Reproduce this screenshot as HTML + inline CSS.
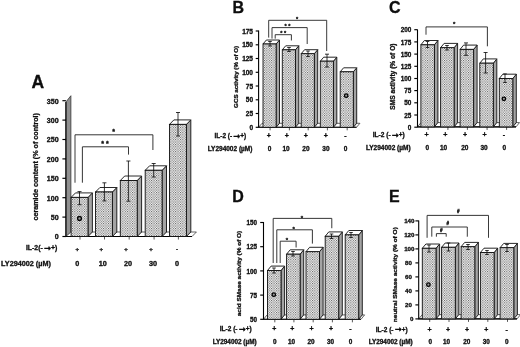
<!DOCTYPE html>
<html><head><meta charset="utf-8"><title>Figure</title>
<style>html,body{margin:0;padding:0;background:#fff;overflow:hidden}svg{display:block}text{font-family:'Liberation Sans', sans-serif;fill:#0a0a0a;stroke:#0a0a0a;stroke-width:0.28px}</style>
</head><body>
<svg width="520" height="347" viewBox="0 0 520 347">
<defs><pattern id="dots" width="2.4" height="2.4" patternUnits="userSpaceOnUse"><rect width="2.4" height="2.4" fill="#ffffff"/><rect x="0" y="0" width="1" height="1" fill="#4c4c4c"/><rect x="1.2" y="1.2" width="1" height="1" fill="#4c4c4c"/></pattern>
<filter id="soft" x="-2%" y="-2%" width="104%" height="104%"><feGaussianBlur stdDeviation="0.35"/></filter></defs>
<rect width="520" height="347" fill="#fff"/>
<g filter="url(#soft)">
<g>
<polygon points="70.6,236.5 75.0,232.0 196.4,232.0 192.0,236.5" fill="#fff" stroke="#222" stroke-width="0.7"/>
<polygon points="65.9,236.5 65.9,102.0 70.9,95.7 70.9,232.0" fill="#909090" stroke="#222" stroke-width="0.7"/>
<path d="M65.9,102.0V236.5H192.0" stroke="#000" stroke-width="1.1" fill="none"/>
<path d="M62.4,236.5H65.9" stroke="#000" stroke-width="1.15"/>
<text x="58.6" y="239.4" font-size="7.1" text-anchor="end" font-weight="bold" >0</text>
<path d="M62.4,217.1H65.9" stroke="#000" stroke-width="1.15"/>
<text x="58.6" y="220.0" font-size="7.1" text-anchor="end" font-weight="bold" >50</text>
<path d="M62.4,197.7H65.9" stroke="#000" stroke-width="1.15"/>
<text x="58.6" y="200.6" font-size="7.1" text-anchor="end" font-weight="bold" >100</text>
<path d="M62.4,178.3H65.9" stroke="#000" stroke-width="1.15"/>
<text x="58.6" y="181.2" font-size="7.1" text-anchor="end" font-weight="bold" >150</text>
<path d="M62.4,158.9H65.9" stroke="#000" stroke-width="1.15"/>
<text x="58.6" y="161.8" font-size="7.1" text-anchor="end" font-weight="bold" >200</text>
<path d="M62.4,139.5H65.9" stroke="#000" stroke-width="1.15"/>
<text x="58.6" y="142.4" font-size="7.1" text-anchor="end" font-weight="bold" >250</text>
<path d="M62.4,120.1H65.9" stroke="#000" stroke-width="1.15"/>
<text x="58.6" y="123.0" font-size="7.1" text-anchor="end" font-weight="bold" >300</text>
<path d="M62.4,100.7H65.9" stroke="#000" stroke-width="1.15"/>
<text x="58.6" y="103.6" font-size="7.1" text-anchor="end" font-weight="bold" >350</text>
<polygon points="88.0,197.4 92.4,192.9 92.4,232.0 88.0,236.5" fill="#a4a4a4" stroke="#111" stroke-width="0.9"/>
<polygon points="71.1,197.4 75.5,192.9 92.4,192.9 88.0,197.4" fill="#fff" stroke="#111" stroke-width="0.9"/>
<rect x="71.1" y="197.4" width="16.9" height="39.1" fill="url(#dots)" stroke="#111" stroke-width="0.9"/>
<path d="M80.0,236.5v3" stroke="#111" stroke-width="0.7"/>
<polygon points="112.4,192.0 116.8,187.5 116.8,232.0 112.4,236.5" fill="#a4a4a4" stroke="#111" stroke-width="0.9"/>
<polygon points="95.5,192.0 99.9,187.5 116.8,187.5 112.4,192.0" fill="#fff" stroke="#111" stroke-width="0.9"/>
<rect x="95.5" y="192.0" width="16.9" height="44.5" fill="url(#dots)" stroke="#111" stroke-width="0.9"/>
<path d="M104.5,236.5v3" stroke="#111" stroke-width="0.7"/>
<polygon points="137.2,180.5 141.6,176.0 141.6,232.0 137.2,236.5" fill="#a4a4a4" stroke="#111" stroke-width="0.9"/>
<polygon points="120.3,180.5 124.7,176.0 141.6,176.0 137.2,180.5" fill="#fff" stroke="#111" stroke-width="0.9"/>
<rect x="120.3" y="180.5" width="16.9" height="56.0" fill="url(#dots)" stroke="#111" stroke-width="0.9"/>
<path d="M129.2,236.5v3" stroke="#111" stroke-width="0.7"/>
<polygon points="162.1,170.3 166.5,165.8 166.5,232.0 162.1,236.5" fill="#a4a4a4" stroke="#111" stroke-width="0.9"/>
<polygon points="145.2,170.3 149.6,165.8 166.5,165.8 162.1,170.3" fill="#fff" stroke="#111" stroke-width="0.9"/>
<rect x="145.2" y="170.3" width="16.9" height="66.2" fill="url(#dots)" stroke="#111" stroke-width="0.9"/>
<path d="M154.1,236.5v3" stroke="#111" stroke-width="0.7"/>
<polygon points="186.4,124.4 190.8,119.9 190.8,232.0 186.4,236.5" fill="#a4a4a4" stroke="#111" stroke-width="0.9"/>
<polygon points="169.5,124.4 173.9,119.9 190.8,119.9 186.4,124.4" fill="#fff" stroke="#111" stroke-width="0.9"/>
<rect x="169.5" y="124.4" width="16.9" height="112.1" fill="url(#dots)" stroke="#111" stroke-width="0.9"/>
<path d="M178.4,236.5v3" stroke="#111" stroke-width="0.7"/>
<path d="M79.5,191.6V204.7M77.5,191.6H81.5M77.5,204.7H81.5" stroke="#111" stroke-width="0.85" fill="none"/>
<path d="M104.4,182.8V200.9M102.4,182.8H106.4M102.4,200.9H106.4" stroke="#111" stroke-width="0.85" fill="none"/>
<path d="M128.4,161.0V201.2M126.4,161.0H130.4M126.4,201.2H130.4" stroke="#111" stroke-width="0.85" fill="none"/>
<path d="M153.7,163.5V177.0M151.7,163.5H155.7M151.7,177.0H155.7" stroke="#111" stroke-width="0.85" fill="none"/>
<path d="M178.0,112.5V136.0M176.0,112.5H180.0M176.0,136.0H180.0" stroke="#111" stroke-width="0.85" fill="none"/>
<path d="M75.0,182.7V134.8H152.9V150.0" stroke="#222" stroke-width="0.9" fill="none"/>
<path d="M82.4,182.7V146.8H128.5V154.6" stroke="#222" stroke-width="0.9" fill="none"/>
<text x="113.7" y="133.5" font-size="7" text-anchor="middle" font-weight="bold" >*</text>
<text x="105.0" y="145.5" font-size="7" text-anchor="middle" font-weight="bold" >* *</text>
<circle cx="79.5" cy="218.4" r="1.9" fill="#999" stroke="#000" stroke-width="1.3"/>
<text x="31.5" y="87.7" font-size="17.5" text-anchor="start" font-weight="bold" >A</text>
<text transform="translate(38.3,166.8) rotate(-90)" font-size="7.25" text-anchor="middle" font-weight="bold" textLength="107.5" lengthAdjust="spacingAndGlyphs">ceramide content (% of control)</text>
<text x="57.3" y="250.4" font-size="6.9" text-anchor="end" font-weight="bold" >IL-2(- <tspan font-family="DejaVu Sans, sans-serif" font-weight="bold" font-size="8.4" dx="-0.9" dy="0.5">&#8594;</tspan><tspan dy="-0.5" dx="0.2">+)</tspan></text>
<text x="50.9" y="266.0" font-size="7.25" text-anchor="end" font-weight="bold" >LY294002 (&#181;M)</text>
<text x="77.3" y="250.5" font-size="6.0" text-anchor="middle" font-weight="bold" >+</text>
<text x="101.2" y="250.5" font-size="6.0" text-anchor="middle" font-weight="bold" >+</text>
<text x="126.0" y="250.5" font-size="6.0" text-anchor="middle" font-weight="bold" >+</text>
<text x="151.0" y="250.5" font-size="6.0" text-anchor="middle" font-weight="bold" >+</text>
<text x="177.0" y="250.5" font-size="6.0" text-anchor="middle" font-weight="bold" >-</text>
<text x="77.3" y="266.0" font-size="7.25" text-anchor="middle" font-weight="bold" >0</text>
<text x="102.8" y="266.0" font-size="7.25" text-anchor="middle" font-weight="bold" >10</text>
<text x="128.0" y="266.0" font-size="7.25" text-anchor="middle" font-weight="bold" >20</text>
<text x="153.0" y="266.0" font-size="7.25" text-anchor="middle" font-weight="bold" >30</text>
<text x="177.0" y="266.0" font-size="7.25" text-anchor="middle" font-weight="bold" >0</text>
</g>
<g>
<polygon points="258.6,127.3 262.0,123.3 359.9,123.3 356.5,127.3" fill="#fff" stroke="#222" stroke-width="0.7"/>
<path d="M258.6,30.5V127.3H356.5" stroke="#000" stroke-width="1.1" fill="none"/>
<path d="M255.7,127.3H258.6" stroke="#000" stroke-width="1.15"/>
<text x="253.0" y="129.9" font-size="6.5" text-anchor="end" font-weight="bold" >0</text>
<path d="M255.7,113.5H258.6" stroke="#000" stroke-width="1.15"/>
<text x="253.0" y="116.2" font-size="6.5" text-anchor="end" font-weight="bold" >25</text>
<path d="M255.7,99.8H258.6" stroke="#000" stroke-width="1.15"/>
<text x="253.0" y="102.4" font-size="6.5" text-anchor="end" font-weight="bold" >50</text>
<path d="M255.7,86.0H258.6" stroke="#000" stroke-width="1.15"/>
<text x="253.0" y="88.7" font-size="6.5" text-anchor="end" font-weight="bold" >75</text>
<path d="M255.7,72.3H258.6" stroke="#000" stroke-width="1.15"/>
<text x="253.0" y="74.9" font-size="6.5" text-anchor="end" font-weight="bold" >100</text>
<path d="M255.7,58.5H258.6" stroke="#000" stroke-width="1.15"/>
<text x="253.0" y="61.2" font-size="6.5" text-anchor="end" font-weight="bold" >125</text>
<path d="M255.7,44.8H258.6" stroke="#000" stroke-width="1.15"/>
<text x="253.0" y="47.4" font-size="6.5" text-anchor="end" font-weight="bold" >150</text>
<path d="M255.7,31.0H258.6" stroke="#000" stroke-width="1.15"/>
<text x="253.0" y="33.7" font-size="6.5" text-anchor="end" font-weight="bold" >175</text>
<polygon points="276.1,44.0 279.5,40.0 279.5,123.3 276.1,127.3" fill="#a4a4a4" stroke="#111" stroke-width="0.9"/>
<polygon points="263.0,44.0 266.4,40.0 279.5,40.0 276.1,44.0" fill="#fff" stroke="#111" stroke-width="0.9"/>
<rect x="263.0" y="44.0" width="13.1" height="83.3" fill="url(#dots)" stroke="#111" stroke-width="0.9"/>
<path d="M270.1,127.3v3" stroke="#111" stroke-width="0.7"/>
<polygon points="295.4,49.8 298.8,45.8 298.8,123.3 295.4,127.3" fill="#a4a4a4" stroke="#111" stroke-width="0.9"/>
<polygon points="282.3,49.8 285.7,45.8 298.8,45.8 295.4,49.8" fill="#fff" stroke="#111" stroke-width="0.9"/>
<rect x="282.3" y="49.8" width="13.1" height="77.5" fill="url(#dots)" stroke="#111" stroke-width="0.9"/>
<path d="M289.4,127.3v3" stroke="#111" stroke-width="0.7"/>
<polygon points="314.3,53.7 317.7,49.7 317.7,123.3 314.3,127.3" fill="#a4a4a4" stroke="#111" stroke-width="0.9"/>
<polygon points="301.2,53.7 304.6,49.7 317.7,49.7 314.3,53.7" fill="#fff" stroke="#111" stroke-width="0.9"/>
<rect x="301.2" y="53.7" width="13.1" height="73.6" fill="url(#dots)" stroke="#111" stroke-width="0.9"/>
<path d="M308.2,127.3v3" stroke="#111" stroke-width="0.7"/>
<polygon points="333.4,61.2 336.8,57.2 336.8,123.3 333.4,127.3" fill="#a4a4a4" stroke="#111" stroke-width="0.9"/>
<polygon points="320.3,61.2 323.7,57.2 336.8,57.2 333.4,61.2" fill="#fff" stroke="#111" stroke-width="0.9"/>
<rect x="320.3" y="61.2" width="13.1" height="66.1" fill="url(#dots)" stroke="#111" stroke-width="0.9"/>
<path d="M327.4,127.3v3" stroke="#111" stroke-width="0.7"/>
<polygon points="353.3,71.8 356.7,67.8 356.7,123.3 353.3,127.3" fill="#a4a4a4" stroke="#111" stroke-width="0.9"/>
<polygon points="340.2,71.8 343.6,67.8 356.7,67.8 353.3,71.8" fill="#fff" stroke="#111" stroke-width="0.9"/>
<rect x="340.2" y="71.8" width="13.1" height="55.5" fill="url(#dots)" stroke="#111" stroke-width="0.9"/>
<path d="M347.2,127.3v3" stroke="#111" stroke-width="0.7"/>
<path d="M270.0,41.5V46.0M268.2,41.5H271.8M268.2,46.0H271.8" stroke="#111" stroke-width="0.85" fill="none"/>
<path d="M289.0,47.5V51.5M287.2,47.5H290.8M287.2,51.5H290.8" stroke="#111" stroke-width="0.85" fill="none"/>
<path d="M308.0,51.0V56.5M306.2,51.0H309.8M306.2,56.5H309.8" stroke="#111" stroke-width="0.85" fill="none"/>
<path d="M327.0,54.2V67.0M325.0,54.2H329.0M325.0,67.0H329.0" stroke="#111" stroke-width="0.85" fill="none"/>
<path d="M268.7,37.6V20.3H326.7V51.0" stroke="#222" stroke-width="0.9" fill="none"/>
<path d="M272.0,38.6V27.6H307.2V44.0" stroke="#222" stroke-width="0.9" fill="none"/>
<path d="M275.2,38.6V34.7H291.4V40.5" stroke="#222" stroke-width="0.9" fill="none"/>
<text x="297.0" y="21.3" font-size="5.6" text-anchor="middle" font-weight="bold" >*</text>
<text x="287.5" y="28.3" font-size="5.6" text-anchor="middle" font-weight="bold" >* *</text>
<text x="283.3" y="35.0" font-size="5.6" text-anchor="middle" font-weight="bold" >* *</text>
<circle cx="346.2" cy="95.7" r="1.75" fill="#999" stroke="#000" stroke-width="1.3"/>
<text x="232.5" y="13.2" font-size="16" text-anchor="start" font-weight="bold" >B</text>
<text transform="translate(237.7,76.9) rotate(-90)" font-size="6.1" text-anchor="middle" font-weight="bold" textLength="62" lengthAdjust="spacingAndGlyphs">GCS activity (% of O)</text>
<text x="246.3" y="138.1" font-size="6.5" text-anchor="end" font-weight="bold" >IL-2 (- <tspan font-family="DejaVu Sans, sans-serif" font-weight="bold" font-size="8.4" dx="-0.9" dy="0.5">&#8594;</tspan><tspan dy="-0.5" dx="0.2">+)</tspan></text>
<text x="252.4" y="151.4" font-size="6.5" text-anchor="end" font-weight="bold" >LY294002 (&#181;M)</text>
<text x="268.8" y="138.1" font-size="7.0" text-anchor="middle" font-weight="bold" >+</text>
<text x="286.8" y="138.1" font-size="7.0" text-anchor="middle" font-weight="bold" >+</text>
<text x="305.9" y="138.1" font-size="7.0" text-anchor="middle" font-weight="bold" >+</text>
<text x="325.9" y="138.1" font-size="7.0" text-anchor="middle" font-weight="bold" >+</text>
<text x="345.5" y="138.1" font-size="7.0" text-anchor="middle" font-weight="bold" >-</text>
<text x="269.5" y="151.4" font-size="6.5" text-anchor="middle" font-weight="bold" >0</text>
<text x="286.0" y="151.4" font-size="6.5" text-anchor="middle" font-weight="bold" >10</text>
<text x="305.9" y="151.4" font-size="6.5" text-anchor="middle" font-weight="bold" >20</text>
<text x="325.9" y="151.4" font-size="6.5" text-anchor="middle" font-weight="bold" >30</text>
<text x="345.5" y="151.4" font-size="6.5" text-anchor="middle" font-weight="bold" >0</text>
</g>
<g>
<polygon points="417.5,126.9 421.0,122.6 519.5,122.6 516.0,126.9" fill="#fff" stroke="#222" stroke-width="0.7"/>
<path d="M417.5,29.5V126.9H516.0" stroke="#000" stroke-width="1.1" fill="none"/>
<path d="M414.3,127.2H417.5" stroke="#000" stroke-width="1.15"/>
<text x="411.4" y="129.8" font-size="6.4" text-anchor="end" font-weight="bold" >0</text>
<path d="M414.3,115.0H417.5" stroke="#000" stroke-width="1.15"/>
<text x="411.4" y="117.6" font-size="6.4" text-anchor="end" font-weight="bold" >25</text>
<path d="M414.3,102.8H417.5" stroke="#000" stroke-width="1.15"/>
<text x="411.4" y="105.4" font-size="6.4" text-anchor="end" font-weight="bold" >50</text>
<path d="M414.3,90.6H417.5" stroke="#000" stroke-width="1.15"/>
<text x="411.4" y="93.2" font-size="6.4" text-anchor="end" font-weight="bold" >75</text>
<path d="M414.3,78.5H417.5" stroke="#000" stroke-width="1.15"/>
<text x="411.4" y="81.1" font-size="6.4" text-anchor="end" font-weight="bold" >100</text>
<path d="M414.3,66.3H417.5" stroke="#000" stroke-width="1.15"/>
<text x="411.4" y="68.9" font-size="6.4" text-anchor="end" font-weight="bold" >125</text>
<path d="M414.3,54.1H417.5" stroke="#000" stroke-width="1.15"/>
<text x="411.4" y="56.7" font-size="6.4" text-anchor="end" font-weight="bold" >150</text>
<path d="M414.3,41.9H417.5" stroke="#000" stroke-width="1.15"/>
<text x="411.4" y="44.5" font-size="6.4" text-anchor="end" font-weight="bold" >175</text>
<path d="M414.3,29.7H417.5" stroke="#000" stroke-width="1.15"/>
<text x="411.4" y="32.3" font-size="6.4" text-anchor="end" font-weight="bold" >200</text>
<polygon points="434.4,44.8 437.9,40.5 437.9,122.6 434.4,126.9" fill="#a4a4a4" stroke="#111" stroke-width="0.9"/>
<polygon points="420.9,44.8 424.4,40.5 437.9,40.5 434.4,44.8" fill="#fff" stroke="#111" stroke-width="0.9"/>
<rect x="420.9" y="44.8" width="13.5" height="82.1" fill="url(#dots)" stroke="#111" stroke-width="0.9"/>
<path d="M428.1,126.9v3" stroke="#111" stroke-width="0.7"/>
<polygon points="454.1,47.7 457.6,43.4 457.6,122.6 454.1,126.9" fill="#a4a4a4" stroke="#111" stroke-width="0.9"/>
<polygon points="440.6,47.7 444.1,43.4 457.6,43.4 454.1,47.7" fill="#fff" stroke="#111" stroke-width="0.9"/>
<rect x="440.6" y="47.7" width="13.5" height="79.2" fill="url(#dots)" stroke="#111" stroke-width="0.9"/>
<path d="M447.9,126.9v3" stroke="#111" stroke-width="0.7"/>
<polygon points="473.6,49.4 477.1,45.1 477.1,122.6 473.6,126.9" fill="#a4a4a4" stroke="#111" stroke-width="0.9"/>
<polygon points="460.1,49.4 463.6,45.1 477.1,45.1 473.6,49.4" fill="#fff" stroke="#111" stroke-width="0.9"/>
<rect x="460.1" y="49.4" width="13.5" height="77.5" fill="url(#dots)" stroke="#111" stroke-width="0.9"/>
<path d="M467.4,126.9v3" stroke="#111" stroke-width="0.7"/>
<polygon points="493.3,63.2 496.8,58.9 496.8,122.6 493.3,126.9" fill="#a4a4a4" stroke="#111" stroke-width="0.9"/>
<polygon points="479.8,63.2 483.3,58.9 496.8,58.9 493.3,63.2" fill="#fff" stroke="#111" stroke-width="0.9"/>
<rect x="479.8" y="63.2" width="13.5" height="63.7" fill="url(#dots)" stroke="#111" stroke-width="0.9"/>
<path d="M487.1,126.9v3" stroke="#111" stroke-width="0.7"/>
<polygon points="512.8,78.5 516.3,74.2 516.3,122.6 512.8,126.9" fill="#a4a4a4" stroke="#111" stroke-width="0.9"/>
<polygon points="499.3,78.5 502.8,74.2 516.3,74.2 512.8,78.5" fill="#fff" stroke="#111" stroke-width="0.9"/>
<rect x="499.3" y="78.5" width="13.5" height="48.4" fill="url(#dots)" stroke="#111" stroke-width="0.9"/>
<path d="M506.6,126.9v3" stroke="#111" stroke-width="0.7"/>
<path d="M427.5,41.5V47.5M425.7,41.5H429.3M425.7,47.5H429.3" stroke="#111" stroke-width="0.85" fill="none"/>
<path d="M447.0,45.5V50.0M445.2,45.5H448.8M445.2,50.0H448.8" stroke="#111" stroke-width="0.85" fill="none"/>
<path d="M466.0,42.9V55.3M464.0,42.9H468.0M464.0,55.3H468.0" stroke="#111" stroke-width="0.85" fill="none"/>
<path d="M485.6,52.5V73.0M483.6,52.5H487.6M483.6,73.0H487.6" stroke="#111" stroke-width="0.85" fill="none"/>
<path d="M505.0,73.9V82.5M503.2,73.9H506.8M503.2,82.5H506.8" stroke="#111" stroke-width="0.85" fill="none"/>
<path d="M426.0,34.7V26.9H487.4V46.3" stroke="#222" stroke-width="0.9" fill="none"/>
<text x="454.2" y="26.2" font-size="6" text-anchor="middle" font-weight="bold" >*</text>
<circle cx="503.9" cy="98.8" r="1.75" fill="#999" stroke="#000" stroke-width="1.3"/>
<text x="389.0" y="12.7" font-size="16" text-anchor="start" font-weight="bold" >C</text>
<text transform="translate(394.9,76.6) rotate(-90)" font-size="6.3" text-anchor="middle" font-weight="bold" textLength="66.2" lengthAdjust="spacingAndGlyphs">SMS activity (% of O)</text>
<text x="404.8" y="137.2" font-size="6.6" text-anchor="end" font-weight="bold" >IL-2 (- <tspan font-family="DejaVu Sans, sans-serif" font-weight="bold" font-size="8.4" dx="-0.9" dy="0.5">&#8594;</tspan><tspan dy="-0.5" dx="0.2">+)</tspan></text>
<text x="410.6" y="149.9" font-size="6.5" text-anchor="end" font-weight="bold" >LY294002 (&#181;M)</text>
<text x="426.7" y="137.2" font-size="7.1" text-anchor="middle" font-weight="bold" >+</text>
<text x="445.4" y="137.2" font-size="7.1" text-anchor="middle" font-weight="bold" >+</text>
<text x="465.0" y="137.2" font-size="7.1" text-anchor="middle" font-weight="bold" >+</text>
<text x="484.5" y="137.2" font-size="7.1" text-anchor="middle" font-weight="bold" >+</text>
<text x="504.0" y="137.2" font-size="7.1" text-anchor="middle" font-weight="bold" >-</text>
<text x="427.3" y="149.9" font-size="6.5" text-anchor="middle" font-weight="bold" >0</text>
<text x="443.6" y="149.9" font-size="6.5" text-anchor="middle" font-weight="bold" >10</text>
<text x="464.8" y="149.9" font-size="6.5" text-anchor="middle" font-weight="bold" >20</text>
<text x="484.1" y="149.9" font-size="6.5" text-anchor="middle" font-weight="bold" >30</text>
<text x="504.4" y="149.9" font-size="6.5" text-anchor="middle" font-weight="bold" >0</text>
</g>
<g>
<polygon points="263.5,319.3 267.1,314.9 364.6,314.9 361.0,319.3" fill="#fff" stroke="#222" stroke-width="0.7"/>
<path d="M263.5,222.0V319.3H361.0" stroke="#000" stroke-width="1.1" fill="none"/>
<path d="M260.2,319.3H263.5" stroke="#000" stroke-width="1.15"/>
<text x="257.1" y="321.9" font-size="6.3" text-anchor="end" font-weight="bold" >50</text>
<path d="M260.2,295.1H263.5" stroke="#000" stroke-width="1.15"/>
<text x="257.1" y="297.7" font-size="6.3" text-anchor="end" font-weight="bold" >75</text>
<path d="M260.2,270.9H263.5" stroke="#000" stroke-width="1.15"/>
<text x="257.1" y="273.5" font-size="6.3" text-anchor="end" font-weight="bold" >100</text>
<path d="M260.2,246.7H263.5" stroke="#000" stroke-width="1.15"/>
<text x="257.1" y="249.3" font-size="6.3" text-anchor="end" font-weight="bold" >125</text>
<path d="M260.2,222.5H263.5" stroke="#000" stroke-width="1.15"/>
<text x="257.1" y="225.1" font-size="6.3" text-anchor="end" font-weight="bold" >150</text>
<polygon points="281.0,270.5 284.6,266.1 284.6,314.9 281.0,319.3" fill="#a4a4a4" stroke="#111" stroke-width="0.9"/>
<polygon points="267.5,270.5 271.1,266.1 284.6,266.1 281.0,270.5" fill="#fff" stroke="#111" stroke-width="0.9"/>
<rect x="267.5" y="270.5" width="13.5" height="48.8" fill="url(#dots)" stroke="#111" stroke-width="0.9"/>
<path d="M274.8,319.3v3" stroke="#111" stroke-width="0.7"/>
<polygon points="300.1,254.2 303.7,249.8 303.7,314.9 300.1,319.3" fill="#a4a4a4" stroke="#111" stroke-width="0.9"/>
<polygon points="286.6,254.2 290.2,249.8 303.7,249.8 300.1,254.2" fill="#fff" stroke="#111" stroke-width="0.9"/>
<rect x="286.6" y="254.2" width="13.5" height="65.1" fill="url(#dots)" stroke="#111" stroke-width="0.9"/>
<path d="M293.9,319.3v3" stroke="#111" stroke-width="0.7"/>
<polygon points="319.5,251.7 323.1,247.3 323.1,314.9 319.5,319.3" fill="#a4a4a4" stroke="#111" stroke-width="0.9"/>
<polygon points="306.0,251.7 309.6,247.3 323.1,247.3 319.5,251.7" fill="#fff" stroke="#111" stroke-width="0.9"/>
<rect x="306.0" y="251.7" width="13.5" height="67.6" fill="url(#dots)" stroke="#111" stroke-width="0.9"/>
<path d="M313.2,319.3v3" stroke="#111" stroke-width="0.7"/>
<polygon points="338.7,236.3 342.3,231.9 342.3,314.9 338.7,319.3" fill="#a4a4a4" stroke="#111" stroke-width="0.9"/>
<polygon points="325.2,236.3 328.8,231.9 342.3,231.9 338.7,236.3" fill="#fff" stroke="#111" stroke-width="0.9"/>
<rect x="325.2" y="236.3" width="13.5" height="83.0" fill="url(#dots)" stroke="#111" stroke-width="0.9"/>
<path d="M332.4,319.3v3" stroke="#111" stroke-width="0.7"/>
<polygon points="358.7,234.9 362.3,230.5 362.3,314.9 358.7,319.3" fill="#a4a4a4" stroke="#111" stroke-width="0.9"/>
<polygon points="345.2,234.9 348.8,230.5 362.3,230.5 358.7,234.9" fill="#fff" stroke="#111" stroke-width="0.9"/>
<rect x="345.2" y="234.9" width="13.5" height="84.4" fill="url(#dots)" stroke="#111" stroke-width="0.9"/>
<path d="M352.4,319.3v3" stroke="#111" stroke-width="0.7"/>
<path d="M274.0,268.0V273.0M272.2,268.0H275.8M272.2,273.0H275.8" stroke="#111" stroke-width="0.85" fill="none"/>
<path d="M293.0,251.5V256.0M291.2,251.5H294.8M291.2,256.0H294.8" stroke="#111" stroke-width="0.85" fill="none"/>
<path d="M331.5,234.0V238.5M329.7,234.0H333.3M329.7,238.5H333.3" stroke="#111" stroke-width="0.85" fill="none"/>
<path d="M351.0,232.5V237.5M349.2,232.5H352.8M349.2,237.5H352.8" stroke="#111" stroke-width="0.85" fill="none"/>
<path d="M273.2,263.0V218.4H331.8V228.2" stroke="#222" stroke-width="0.9" fill="none"/>
<path d="M276.8,263.0V229.8H312.4V243.6" stroke="#222" stroke-width="0.9" fill="none"/>
<path d="M280.2,263.0V241.2H296.1V247.5" stroke="#222" stroke-width="0.9" fill="none"/>
<text x="301.9" y="219.5" font-size="6" text-anchor="middle" font-weight="bold" >*</text>
<text x="293.6" y="230.8" font-size="6" text-anchor="middle" font-weight="bold" >*</text>
<text x="286.8" y="242.2" font-size="6" text-anchor="middle" font-weight="bold" >*</text>
<circle cx="273.8" cy="294.7" r="1.75" fill="#999" stroke="#000" stroke-width="1.3"/>
<text x="232.3" y="202.0" font-size="16" text-anchor="start" font-weight="bold" >D</text>
<text transform="translate(241.1,273.5) rotate(-90)" font-size="6.2" text-anchor="middle" font-weight="bold" textLength="85.5" lengthAdjust="spacingAndGlyphs">acid SMase activity (% of O)</text>
<text x="251.6" y="331.3" font-size="6.5" text-anchor="end" font-weight="bold" >IL-2 (- <tspan font-family="DejaVu Sans, sans-serif" font-weight="bold" font-size="8.4" dx="-0.9" dy="0.5">&#8594;</tspan><tspan dy="-0.5" dx="0.2">+)</tspan></text>
<text x="256.6" y="344.0" font-size="6.4" text-anchor="end" font-weight="bold" >LY294002 (&#181;M)</text>
<text x="274.3" y="331.3" font-size="7.0" text-anchor="middle" font-weight="bold" >+</text>
<text x="292.3" y="331.3" font-size="7.0" text-anchor="middle" font-weight="bold" >+</text>
<text x="311.5" y="331.3" font-size="7.0" text-anchor="middle" font-weight="bold" >+</text>
<text x="331.0" y="331.3" font-size="7.0" text-anchor="middle" font-weight="bold" >+</text>
<text x="350.5" y="331.3" font-size="7.0" text-anchor="middle" font-weight="bold" >-</text>
<text x="274.8" y="344.0" font-size="6.4" text-anchor="middle" font-weight="bold" >0</text>
<text x="291.5" y="344.0" font-size="6.4" text-anchor="middle" font-weight="bold" >10</text>
<text x="311.0" y="344.0" font-size="6.4" text-anchor="middle" font-weight="bold" >20</text>
<text x="330.5" y="344.0" font-size="6.4" text-anchor="middle" font-weight="bold" >30</text>
<text x="350.5" y="344.0" font-size="6.4" text-anchor="middle" font-weight="bold" >0</text>
</g>
<g>
<polygon points="418.7,318.9 422.3,314.6 520.6,314.6 517.0,318.9" fill="#fff" stroke="#222" stroke-width="0.7"/>
<path d="M418.7,220.5V318.9H517.0" stroke="#000" stroke-width="1.1" fill="none"/>
<path d="M415.4,318.9H418.7" stroke="#000" stroke-width="1.15"/>
<text x="413.4" y="321.4" font-size="6.2" text-anchor="end" font-weight="bold" >0</text>
<path d="M415.4,304.9H418.7" stroke="#000" stroke-width="1.15"/>
<text x="412.0" y="307.4" font-size="6.2" text-anchor="end" font-weight="bold" >20</text>
<path d="M415.4,290.9H418.7" stroke="#000" stroke-width="1.15"/>
<text x="412.0" y="293.4" font-size="6.2" text-anchor="end" font-weight="bold" >40</text>
<path d="M415.4,276.9H418.7" stroke="#000" stroke-width="1.15"/>
<text x="412.0" y="279.4" font-size="6.2" text-anchor="end" font-weight="bold" >60</text>
<path d="M415.4,262.9H418.7" stroke="#000" stroke-width="1.15"/>
<text x="412.0" y="265.4" font-size="6.2" text-anchor="end" font-weight="bold" >80</text>
<path d="M415.4,248.9H418.7" stroke="#000" stroke-width="1.15"/>
<text x="414.5" y="251.4" font-size="6.2" text-anchor="end" font-weight="bold" >100</text>
<path d="M415.4,234.9H418.7" stroke="#000" stroke-width="1.15"/>
<text x="414.5" y="237.4" font-size="6.2" text-anchor="end" font-weight="bold" >120</text>
<path d="M415.4,220.9H418.7" stroke="#000" stroke-width="1.15"/>
<text x="414.5" y="223.4" font-size="6.2" text-anchor="end" font-weight="bold" >140</text>
<polygon points="436.0,248.3 439.6,244.0 439.6,314.6 436.0,318.9" fill="#a4a4a4" stroke="#111" stroke-width="0.9"/>
<polygon points="422.3,248.3 425.9,244.0 439.6,244.0 436.0,248.3" fill="#fff" stroke="#111" stroke-width="0.9"/>
<rect x="422.3" y="248.3" width="13.7" height="70.6" fill="url(#dots)" stroke="#111" stroke-width="0.9"/>
<path d="M429.7,318.9v3" stroke="#111" stroke-width="0.7"/>
<polygon points="455.3,247.3 458.9,243.0 458.9,314.6 455.3,318.9" fill="#a4a4a4" stroke="#111" stroke-width="0.9"/>
<polygon points="441.6,247.3 445.2,243.0 458.9,243.0 455.3,247.3" fill="#fff" stroke="#111" stroke-width="0.9"/>
<rect x="441.6" y="247.3" width="13.7" height="71.6" fill="url(#dots)" stroke="#111" stroke-width="0.9"/>
<path d="M449.0,318.9v3" stroke="#111" stroke-width="0.7"/>
<polygon points="474.8,246.7 478.4,242.4 478.4,314.6 474.8,318.9" fill="#a4a4a4" stroke="#111" stroke-width="0.9"/>
<polygon points="461.1,246.7 464.7,242.4 478.4,242.4 474.8,246.7" fill="#fff" stroke="#111" stroke-width="0.9"/>
<rect x="461.1" y="246.7" width="13.7" height="72.2" fill="url(#dots)" stroke="#111" stroke-width="0.9"/>
<path d="M468.5,318.9v3" stroke="#111" stroke-width="0.7"/>
<polygon points="494.1,252.5 497.7,248.2 497.7,314.6 494.1,318.9" fill="#a4a4a4" stroke="#111" stroke-width="0.9"/>
<polygon points="480.4,252.5 484.0,248.2 497.7,248.2 494.1,252.5" fill="#fff" stroke="#111" stroke-width="0.9"/>
<rect x="480.4" y="252.5" width="13.7" height="66.4" fill="url(#dots)" stroke="#111" stroke-width="0.9"/>
<path d="M487.8,318.9v3" stroke="#111" stroke-width="0.7"/>
<polygon points="513.8,247.7 517.4,243.4 517.4,314.6 513.8,318.9" fill="#a4a4a4" stroke="#111" stroke-width="0.9"/>
<polygon points="500.1,247.7 503.7,243.4 517.4,243.4 513.8,247.7" fill="#fff" stroke="#111" stroke-width="0.9"/>
<rect x="500.1" y="247.7" width="13.7" height="71.2" fill="url(#dots)" stroke="#111" stroke-width="0.9"/>
<path d="M507.5,318.9v3" stroke="#111" stroke-width="0.7"/>
<path d="M429.0,245.0V252.0M427.2,245.0H430.8M427.2,252.0H430.8" stroke="#111" stroke-width="0.85" fill="none"/>
<path d="M448.5,243.0V251.0M446.7,243.0H450.3M446.7,251.0H450.3" stroke="#111" stroke-width="0.85" fill="none"/>
<path d="M468.0,244.5V249.5M466.2,244.5H469.8M466.2,249.5H469.8" stroke="#111" stroke-width="0.85" fill="none"/>
<path d="M487.0,250.5V254.5M485.2,250.5H488.8M485.2,254.5H488.8" stroke="#111" stroke-width="0.85" fill="none"/>
<path d="M507.0,244.5V251.5M505.2,244.5H508.8M505.2,251.5H508.8" stroke="#111" stroke-width="0.85" fill="none"/>
<path d="M427.1,237.8V215.4H488.5V237.8" stroke="#222" stroke-width="0.9" fill="none"/>
<path d="M431.8,236.7V227.0H467.3V236.7" stroke="#222" stroke-width="0.9" fill="none"/>
<path d="M436.4,236.7V233.6H446.2V236.7" stroke="#222" stroke-width="0.9" fill="none"/>
<text x="458.2" y="212.6" font-size="4.6" text-anchor="middle" font-weight="bold" >#</text>
<text x="447.8" y="224.8" font-size="4.6" text-anchor="middle" font-weight="bold" >#</text>
<text x="441.2" y="231.6" font-size="4.6" text-anchor="middle" font-weight="bold" >#</text>
<circle cx="428.4" cy="284.7" r="1.75" fill="#999" stroke="#000" stroke-width="1.3"/>
<text x="389.0" y="202.0" font-size="16" text-anchor="start" font-weight="bold" >E</text>
<text transform="translate(397.3,274.7) rotate(-90)" font-size="6.2" text-anchor="middle" font-weight="bold" textLength="95" lengthAdjust="spacingAndGlyphs">neutral SMase activity (% of O)</text>
<text x="407.6" y="331.8" font-size="6.5" text-anchor="end" font-weight="bold" >IL-2 (- <tspan font-family="DejaVu Sans, sans-serif" font-weight="bold" font-size="8.4" dx="-0.9" dy="0.5">&#8594;</tspan><tspan dy="-0.5" dx="0.2">+)</tspan></text>
<text x="412.6" y="344.3" font-size="6.4" text-anchor="end" font-weight="bold" >LY294002 (&#181;M)</text>
<text x="429.5" y="331.8" font-size="7.0" text-anchor="middle" font-weight="bold" >+</text>
<text x="448.0" y="331.8" font-size="7.0" text-anchor="middle" font-weight="bold" >+</text>
<text x="467.0" y="331.8" font-size="7.0" text-anchor="middle" font-weight="bold" >+</text>
<text x="486.3" y="331.8" font-size="7.0" text-anchor="middle" font-weight="bold" >+</text>
<text x="506.7" y="331.8" font-size="7.0" text-anchor="middle" font-weight="bold" >-</text>
<text x="430.3" y="344.3" font-size="6.4" text-anchor="middle" font-weight="bold" >0</text>
<text x="446.5" y="344.3" font-size="6.4" text-anchor="middle" font-weight="bold" >10</text>
<text x="466.8" y="344.3" font-size="6.4" text-anchor="middle" font-weight="bold" >20</text>
<text x="486.2" y="344.3" font-size="6.4" text-anchor="middle" font-weight="bold" >30</text>
<text x="506.7" y="344.3" font-size="6.4" text-anchor="middle" font-weight="bold" >0</text>
</g>
</g>
</svg></body></html>
